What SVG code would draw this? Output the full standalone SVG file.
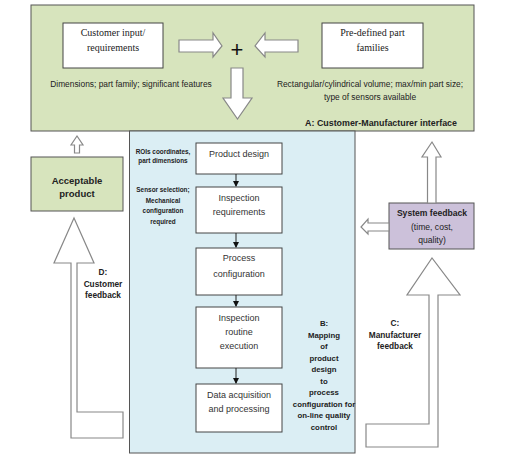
<svg xmlns="http://www.w3.org/2000/svg" width="505" height="455" viewBox="0 0 505 455">
<style>
.box{fill:#fff;stroke:#444;stroke-width:1}
.arr{fill:#fff;stroke:#888;stroke-width:1.2}
.serif{font-family:"Liberation Serif",serif;font-size:10px;fill:#222;text-anchor:middle}
.sans{font-family:"Liberation Sans",Arial,sans-serif;fill:#222;text-anchor:middle}
.t{font-size:9px;fill:#333}
.s{font-size:8.4px}
.b{font-weight:bold}
.lab{font-size:7.8px;font-weight:bold}
.lab2{font-size:8.3px;font-weight:bold}
.tiny{font-size:6.4px;font-weight:bold}
</style>
<defs>
<marker id="ah" markerWidth="6" markerHeight="6" refX="5" refY="3" orient="auto" markerUnits="userSpaceOnUse">
<path d="M0,0 L6,3 L0,6 z" fill="#111"/>
</marker>
</defs>
<rect width="505" height="455" fill="#fff"/>

<g id="interface">
<rect x="31" y="5" width="443" height="126" fill="#d7e4bd" stroke="#555" stroke-width="1"/>
<text class="sans b" x="381" y="126" font-size="8.9px">A: Customer-Manufacturer interface</text>
</g>

<g id="process-area">
<rect x="129.5" y="131" width="225.5" height="322" fill="#dbeef4" stroke="#555" stroke-width="1"/>
<text class="sans lab" x="324"><tspan x="324" y="326">B:</tspan><tspan x="324" y="337.5">Mapping</tspan><tspan x="324" y="349">of</tspan><tspan x="324" y="360.5">product</tspan><tspan x="324" y="372">design</tspan><tspan x="324" y="383.5">to</tspan><tspan x="324" y="395">process</tspan><tspan x="324" y="406.5">configuration for</tspan><tspan x="324" y="418">on-line quality</tspan><tspan x="324" y="429.5">control</tspan></text>
<text class="sans tiny"><tspan x="163" y="154">ROIs coordinates,</tspan><tspan x="163" y="163">part dimensions</tspan></text>
<text class="sans tiny"><tspan x="163" y="192">Sensor selection;</tspan><tspan x="163" y="202.5">Mechanical</tspan><tspan x="163" y="213">configuration</tspan><tspan x="163" y="223.5">required</tspan></text>
</g>

<g id="customer-input">
<rect class="box" x="63" y="23" width="100" height="45"/>
<text class="serif"><tspan x="113" y="36">Customer input/</tspan><tspan x="113" y="51">requirements</tspan></text>
<text class="sans s" x="131" y="87">Dimensions; part family; significant features</text>
</g>

<g id="part-families">
<rect class="box" x="322" y="23" width="101" height="45"/>
<text class="serif"><tspan x="372.5" y="36">Pre-defined part</tspan><tspan x="372.5" y="51">families</tspan></text>
<text class="sans s"><tspan x="370" y="87">Rectangular/cylindrical volume; max/min part size;</tspan><tspan x="370" y="100">type of sensors available</tspan></text>
</g>

<g id="plus">
<text x="237" y="57" font-family="'Liberation Sans',Arial,sans-serif" font-size="22px" text-anchor="middle" fill="#111">+</text>
</g>

<g id="product-design">
<rect class="box" x="196" y="143" width="86" height="31"/>
<text class="sans t" x="239" y="157">Product design</text>
</g>
<g id="inspection-requirements">
<rect class="box" x="196" y="187" width="86" height="46"/>
<text class="sans t"><tspan x="239" y="201">Inspection</tspan><tspan x="239" y="215">requirements</tspan></text>
</g>
<g id="process-configuration">
<rect class="box" x="196" y="248" width="86" height="47"/>
<text class="sans t"><tspan x="239" y="261">Process</tspan><tspan x="239" y="277">configuration</tspan></text>
</g>
<g id="inspection-routine">
<rect class="box" x="196" y="307" width="86" height="61"/>
<text class="sans t"><tspan x="239" y="321">Inspection</tspan><tspan x="239" y="335">routine</tspan><tspan x="239" y="349">execution</tspan></text>
</g>
<g id="data-acquisition">
<rect class="box" x="196" y="384" width="86" height="48"/>
<text class="sans t"><tspan x="239" y="398">Data acquisition</tspan><tspan x="239" y="412">and processing</tspan></text>
</g>

<g id="acceptable-product">
<rect x="31" y="157" width="92" height="54" fill="#d7e4bd" stroke="#555" stroke-width="1"/>
<text class="sans b" font-size="9.5px"><tspan x="77" y="184">Acceptable</tspan><tspan x="77" y="197">product</tspan></text>
</g>

<g id="system-feedback">
<rect x="389" y="203" width="85" height="46" fill="#ccc1da" stroke="#555" stroke-width="1"/>
<text class="sans" font-size="8.6px"><tspan x="432" y="216" font-weight="bold">System feedback</tspan><tspan x="432" y="229.5">(time, cost,</tspan><tspan x="432" y="243">quality)</tspan></text>
</g>

<g id="connectors">
<path class="arr" d="M179,40 H213 V33 L222,46 L213,57 V52 H179 Z"/>
<path class="arr" d="M298,40 H265 V33 L255,46 L265,57 V52 H298 Z"/>
<path class="arr" d="M231,68 H243 V98 H252 L237.5,119 L223,98 H231 Z"/>
<path class="arr" d="M74.5,153 V145 H71 L77,136 L83,145 H79.5 V153 Z"/>
<path class="arr" d="M71,263 H54 L74,218 L94,263 H77 V412 H123 V438 H71 Z"/>
<path class="arr" d="M427.5,203 V157 H422 L432,142 L441,157 H436 V203 Z"/>
<path class="arr" d="M389,223 H368 V219 L361,227 L368,234 V231 H389 Z"/>
<path class="arr" d="M429,295 H407 L432,258 L460,295 H438 V447 H366 V424 H429 Z"/>
<line x1="236" y1="174" x2="236" y2="186" stroke="#222" stroke-width="1" marker-end="url(#ah)"/>
<line x1="236" y1="233" x2="236" y2="247" stroke="#222" stroke-width="1" marker-end="url(#ah)"/>
<line x1="236" y1="295" x2="236" y2="306" stroke="#222" stroke-width="1" marker-end="url(#ah)"/>
<line x1="236" y1="368" x2="236" y2="383" stroke="#222" stroke-width="1" marker-end="url(#ah)"/>
</g>

<g id="labels">
<text class="sans lab2"><tspan x="103" y="275">D:</tspan><tspan x="103" y="287">Customer</tspan><tspan x="103" y="298">feedback</tspan></text>
<text class="sans lab2"><tspan x="395" y="326">C:</tspan><tspan x="395" y="337.5">Manufacturer</tspan><tspan x="395" y="349">feedback</tspan></text>
</g>
</svg>
